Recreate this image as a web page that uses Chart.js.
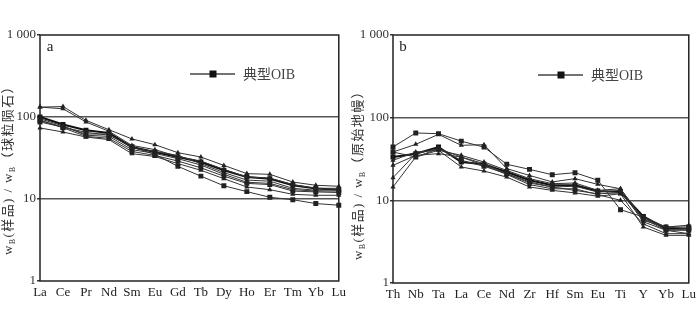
<!DOCTYPE html>
<html>
<head>
<meta charset="utf-8">
<script src="https://cdn.jsdelivr.net/npm/chart.js@4.4.1/dist/chart.umd.min.js"></script>
<style>
    body { margin: 0; background: #fff; }
    #wrap { display: flex; width: 700px; height: 321px; }
    canvas { display: block; }
</style>
</head>
<body>
<div id="wrap">
    <canvas id="ree-chart" width="350" height="321"></canvas>
    <canvas id="spider-chart" width="350" height="321"></canvas>
</div>
<script>
// Chondrite-normalized REE (panel a)
const reeLabels = ['La', 'Ce', 'Pr', 'Nd', 'Sm', 'Eu', 'Gd', 'Tb', 'Dy', 'Ho', 'Er', 'Tm', 'Yb', 'Lu'];
const reeS1 = [132, 134, 91, 70, 54, 46, 36.7, 32.5, 25.7, 20.4, 20, 16.1, 14.7, 14.3];
const reeS2 = [132, 126, 87, 67, 45, 40, 33, 29, 23, 18.5, 18, 15, 13.5, 13.5];
const reeS3 = [87, 75, 65, 60, 43, 35, 25, 19, 14.5, 12.3, 10.5, 9.8, 8.8, 8.4];
const reeS4 = [73.5, 65.6, 57, 53, 35.7, 33, 27, 22.4, 17.7, 14, 13, 11.4, 11.1, 11.1];
const reeS5 = [95, 78, 60, 58, 40, 36, 31, 26, 20, 16, 15.5, 13, 12.5, 12.5];
const reeS6 = [90, 76, 62, 62, 42, 38, 34, 27, 21, 17, 16.5, 13.5, 12.8, 13];
const reeS7 = [92, 74, 58, 55, 38, 34, 29, 24, 19, 15.5, 15, 12.5, 12.2, 12];
const reeOIB = [100, 81, 69, 64, 43, 37.4, 32.5, 28.3, 22.4, 18.5, 17.7, 14.7, 13.4, 13];

// Primitive-mantle-normalized trace elements (panel b)
const traceLabels = ['Th', 'Nb', 'Ta', 'La', 'Ce', 'Nd', 'Zr', 'Hf', 'Sm', 'Eu', 'Ti', 'Y', 'Yb', 'Lu'];
const traceS1 = [44.2, 65.3, 64, 52, 44, 27.3, 23.7, 20.4, 21.6, 17.5, 7.7, 6.3, 4.76, 4.76];
const traceS2 = [38.4, 47.6, 62.8, 46.3, 47.1, 24.2, 20, 16.7, 18.3, 15.6, 13.8, 6, 4.76, 4.54];
const traceS3 = [14.5, 33.4, 40.3, 25.3, 22.6, 19.1, 14.5, 13.2, 12.3, 11.2, 12, 4.76, 3.77, 3.77];
const traceS4 = [18.8, 36.7, 42.2, 33.4, 26.5, 20.6, 15.5, 13.8, 13.8, 11.7, 10, 5.2, 3.95, 3.95];
const traceS5 = [38.4, 33.4, 42.2, 30.5, 25.8, 21, 16.7, 14.5, 13.2, 12, 12.3, 6, 4.34, 4.34];
const traceS6 = [26.5, 35, 36.7, 33.4, 27.8, 21, 16.2, 14.5, 14.8, 12.6, 13.2, 5.5, 4.34, 3.95];
const traceS7 = [30.5, 38.4, 40.3, 35, 29.1, 23, 18.3, 15.9, 16.2, 13.2, 13.8, 5.7, 4.76, 5.0];
const traceOIB = [33.4, 36.7, 44.2, 29.1, 27.3, 22, 17.5, 15.2, 15.2, 13, 12.6, 6.4, 4.54, 4.54];

const yTicks = [1, 10, 100, 1000];
const serif = "'Liberation Serif', 'Noto Sans CJK SC', serif";

function sample(data, style) {
    return {
        data: data,
        borderColor: '#333',
        backgroundColor: '#222',
        borderWidth: 1,
        pointStyle: style,
        pointRadius: style === 'rect' ? 3.5 : 3,
        pointBorderWidth: 0,
        tension: 0
    };
}

function oib(data) {
    return {
        label: '典型OIB',
        data: data,
        borderColor: '#111',
        backgroundColor: '#111',
        borderWidth: 2,
        pointStyle: 'rect',
        pointRadius: 3.5,
        pointBorderWidth: 0,
        tension: 0,
        isOIB: true
    };
}

// Frame, panel letter, legend and y title with subscripts
const decorPlugin = {
    id: 'decor',
    afterDraw(chart, args, opts) {
        const ctx = chart.ctx;
        const a = chart.chartArea;
        ctx.save();
        ctx.strokeStyle = '#222';
        ctx.lineWidth = 1.5;
        ctx.strokeRect(a.left, a.top, a.right - a.left, a.bottom - a.top);

        ctx.fillStyle = '#222';
        ctx.font = '15px ' + serif;
        ctx.textAlign = 'center';
        ctx.textBaseline = 'middle';
        ctx.fillText(opts.letter, opts.letterX, 47);

        // legend for the OIB series
        const ds = chart.data.datasets.find(d => d.isOIB);
        const ly = opts.legendY;
        ctx.strokeStyle = '#444';
        ctx.lineWidth = 1.5;
        ctx.beginPath();
        ctx.moveTo(opts.legendX, ly);
        ctx.lineTo(opts.legendX + 45, ly);
        ctx.stroke();
        ctx.fillStyle = '#111';
        ctx.fillRect(opts.legendX + 19.5, ly - 3.5, 7, 7);
        ctx.fillStyle = '#444';
        ctx.font = '14px ' + serif;
        ctx.textAlign = 'left';
        ctx.fillText(ds.label, opts.legendX + 53, ly + 1);

        // rotated y title
        const parts = [
            ['w', false], ['B', true], ['(样品) / ', false],
            ['w', false], ['B', true], [opts.titleTail, false]
        ];
        const big = '13px ' + serif;
        const small = '8px ' + serif;
        ctx.letterSpacing = '1.4px';
        let total = 0;
        for (const p of parts) {
            ctx.font = p[1] ? small : big;
            total += ctx.measureText(p[0]).width;
        }
        ctx.translate(9, opts.titleY);
        ctx.rotate(-Math.PI / 2);
        ctx.fillStyle = '#333';
        ctx.textBaseline = 'middle';
        let x = -total / 2;
        for (const p of parts) {
            ctx.font = p[1] ? small : big;
            ctx.fillText(p[0], x, p[1] ? 4 : 0);
            x += ctx.measureText(p[0]).width;
        }
        ctx.restore();
    }
};

function makeChart(canvasId, labels, datasets, geo) {
    return new Chart(document.getElementById(canvasId).getContext('2d'), {
        type: 'line',
        data: { labels: labels, datasets: datasets },
        plugins: [decorPlugin],
        options: {
            responsive: false,
            animation: false,
            layout: { padding: { left: 0, right: geo.right, top: 35, bottom: 0 } },
            plugins: {
                legend: { display: false },
                tooltip: { enabled: false },
                decor: geo.decor
            },
            scales: {
                x: {
                    type: 'category',
                    offset: false,
                    grid: { display: false, drawTicks: false },
                    border: { display: false },
                    ticks: {
                        color: '#222',
                        font: { family: serif, size: 13 },
                        padding: 4,
                        maxRotation: 0,
                        autoSkip: false
                    },
                    afterFit(scale) { scale.height = geo.xHeight; }
                },
                y: {
                    type: 'logarithmic',
                    min: 1,
                    max: 1000,
                    border: { display: false },
                    grid: {
                        color: ctx => (ctx.tick && (ctx.tick.value === 10 || ctx.tick.value === 100)) ? '#555' : 'rgba(0,0,0,0)',
                        lineWidth: 1.5,
                        tickColor: '#333',
                        tickLength: 3
                    },
                    ticks: {
                        color: '#333',
                        font: { family: serif, size: 13 },
                        padding: 1,
                        callback: v => v === 1000 ? '1 000' : String(v)
                    },
                    afterBuildTicks(scale) {
                        scale.ticks = yTicks.map(v => ({ value: v }));
                    },
                    afterFit(scale) { scale.width = geo.yWidth; }
                }
            }
        }
    });
}

makeChart('ree-chart', reeLabels, [
    sample(reeS1, 'triangle'),
    sample(reeS2, 'triangle'),
    sample(reeS3, 'rect'),
    sample(reeS4, 'triangle'),
    sample(reeS5, 'triangle'),
    sample(reeS6, 'triangle'),
    sample(reeS7, 'rect'),
    oib(reeOIB)
], {
    right: 9, yWidth: 40, xHeight: 40,
    decor: { letter: 'a', letterX: 50, legendX: 190, legendY: 74, titleY: 167, titleTail: '（球粒陨石）' }
});

makeChart('spider-chart', traceLabels, [
    sample(traceS1, 'rect'),
    sample(traceS2, 'triangle'),
    sample(traceS3, 'triangle'),
    sample(traceS4, 'triangle'),
    sample(traceS5, 'rect'),
    sample(traceS6, 'triangle'),
    sample(traceS7, 'triangle'),
    oib(traceOIB)
], {
    right: 7, yWidth: 43, xHeight: 38,
    decor: { letter: 'b', letterX: 53, legendX: 188, legendY: 75, titleY: 172, titleTail: '（原始地幔）' }
});
</script>
</body>
</html>
